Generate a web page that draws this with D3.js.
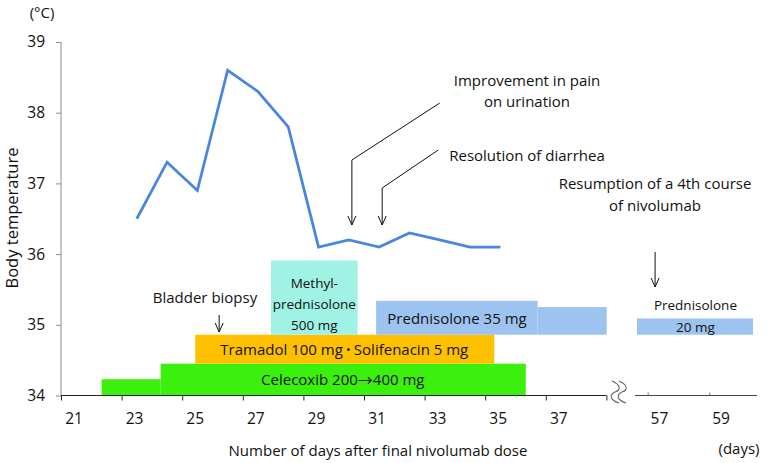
<!DOCTYPE html>
<html>
<head>
<meta charset="utf-8">
<script src="https://cdn.jsdelivr.net/npm/d3@7"></script>
<style>
  html, body { margin: 0; padding: 0; background: #fff; }
  svg { display: block; font-family: "Open Sans", sans-serif; }
</style>
</head>
<body>
<svg id="chart" width="767" height="463"></svg>
<script>
// ---- data ----
const days = [23, 24, 25, 26, 27, 28, 29, 30, 31, 32, 33, 34, 35];
const temps = [36.5, 37.3, 36.9, 38.6, 38.3, 37.8, 36.1, 36.2, 36.1, 36.3, 36.2, 36.1, 36.1];
const yTicks = [34, 35, 36, 37, 38, 39];
const xTicks = [21, 23, 25, 27, 29, 31, 33, 35, 37, 39];
const xTickLabels = ["21", "23", "25", "27", "29", "31", "33", "35", "37", ""];
const xTicks2 = [57, 59];
const xTickLabels2 = ["57", "59"];

// treatment periods (days) and their band levels (°C on the chart)
const barNames = ["celecoxib-a", "celecoxib-b", "tramadol", "methylpred", "pred35-a", "pred35-b", "pred20"];
const barStart = [22.34, 24.29, 25.43, 27.93, 31.40, 36.73, 56.65];
const barEnd   = [24.29, 36.34, 35.30, 30.79, 36.73, 39.01, 60.42];
const barLow   = [34.0, 34.0, 34.45, 34.86, 34.86, 34.86, 34.86];
const barHigh  = [34.23, 34.45, 34.86, 35.91, 35.34, 35.25, 35.09];
const barSegment = [1, 1, 1, 1, 1, 1, 2];
const barColors = ["#3cf00e", "#3cf00e", "#ffc000", "#9ff2e4", "#9dc3f0", "#9dc3f0", "#9dc3f0"];

// ---- scales ----
const svg = d3.select("#chart");
const y = d3.scaleLinear().domain([34, 39]).range([395.5, 42]);
const x = d3.scaleLinear().domain([21, 39]).range([61, 606.4]);
const x2 = d3.scaleLinear().domain([57, 59]).range([647.7, 709.3]);
const xs = s => (s === 2 ? x2 : x);

// ---- bars ----
svg.append("g").selectAll("rect")
  .data(barNames)
  .join("rect")
  .attr("x", (d, i) => xs(barSegment[i])(barStart[i]))
  .attr("width", (d, i) => xs(barSegment[i])(barEnd[i]) - xs(barSegment[i])(barStart[i]))
  .attr("y", (d, i) => y(barHigh[i]))
  .attr("height", (d, i) => y(barLow[i]) - y(barHigh[i]))
  .attr("fill", (d, i) => barColors[i]);

// ---- axes ----
const yAxis = d3.axisLeft(y).tickValues(yTicks).tickSize(5).tickPadding(11).tickFormat(d3.format("d"));
const gy = svg.append("g").attr("transform", "translate(61,0)").call(yAxis);
gy.select(".domain").attr("stroke", "#8c8c8c").attr("d", `M0,${y(34)}V${y(39)}`);
gy.selectAll(".tick line").attr("stroke", "#8c8c8c");
gy.selectAll(".tick text").attr("font-size", 15.5).attr("fill", "#111").attr("font-family", "Open Sans");

const xAxis = d3.axisBottom(x).tickValues(xTicks).tickSize(5).tickFormat("");
const gx = svg.append("g").attr("transform", `translate(0,${y(34)})`).call(xAxis);
gx.select(".domain").attr("stroke", "#222").attr("d", `M${x(21)},0H${x(39)}`);
gx.selectAll(".tick line").attr("stroke", "#222");
svg.append("g").selectAll("text")
  .data(xTicks)
  .join("text")
  .attr("x", d => x(d + 0.43))
  .attr("y", 418)
  .attr("text-anchor", "middle")
  .attr("dominant-baseline", "central")
  .attr("font-size", 15.5).attr("fill", "#111")
  .text((d, i) => xTickLabels[i]);

const xAxis2 = d3.axisBottom(x2).tickValues(xTicks2).tickSize(4).tickFormat("");
const gx2 = svg.append("g").attr("transform", `translate(0,${y(34)})`).call(xAxis2);
gx2.select(".domain").attr("stroke", "#444").attr("d", `M635,0H757`);
gx2.selectAll(".tick line").attr("stroke", "#777").attr("y2", -3);
svg.append("g").selectAll("text")
  .data(xTicks2)
  .join("text")
  .attr("x", d => x2(d + 0.38))
  .attr("y", 418)
  .attr("text-anchor", "middle")
  .attr("dominant-baseline", "central")
  .attr("font-size", 15.5).attr("fill", "#111")
  .text((d, i) => xTickLabels2[i]);

// axis break
const brk = svg.append("g").attr("fill", "none").attr("stroke", "#666").attr("stroke-width", 1.1);
[0, 7].forEach(o => {
  brk.append("path").attr("d",
    `M${612 + o},381 C${621 + o},385 ${621 + o},390 ${615 + o},392 C${609 + o},395 ${610 + o},400 ${619 + o},403`);
});

// ---- temperature line ----
const line = d3.line().x(d => x(d[0] + 0.5)).y(d => y(d[1]));
svg.append("path")
  .datum(days.map((d, i) => [d, temps[i]]))
  .attr("fill", "none")
  .attr("stroke", "#4a86e0")
  .attr("stroke-width", 2.8)
  .attr("stroke-linejoin", "miter")
  .attr("d", line);

// ---- bar labels ----
const txt = (t, cx, cy, size, anchor = "middle") =>
  svg.append("text").attr("x", cx).attr("y", cy).attr("text-anchor", anchor)
    .attr("dominant-baseline", "central").attr("font-size", size).attr("fill", "#111").text(t);

txt("Methyl-", x(29.36), 283, 13.5);
txt("prednisolone", x(29.36), 304, 13.5);
txt("500 mg", x(29.36), 325, 13.5);
txt("Prednisolone 35 mg", x(34.07), 318, 15);

const tram = svg.append("text").attr("x", x(30.35)).attr("y", 349).attr("text-anchor", "middle")
  .attr("dominant-baseline", "central").attr("font-size", 15).attr("fill", "#111");
tram.append("tspan").text("Tramadol 100 mg");
tram.append("tspan").attr("font-family", "Noto Sans CJK JP").attr("font-weight", "bold").attr("font-size", 11).text("・");
tram.append("tspan").text("Solifenacin 5 mg");

const cel = svg.append("text").attr("x", x(30.3)).attr("y", 379).attr("text-anchor", "middle")
  .attr("dominant-baseline", "central").attr("font-size", 15).attr("fill", "#111");
cel.append("tspan").text("Celecoxib 200");
cel.append("tspan").attr("font-family", "Noto Sans CJK JP").text("→");
cel.append("tspan").text("400 mg");

txt("Prednisolone", x2(58.55), 305, 13.5);
txt("20 mg", x2(58.55), 327, 13.5);

// ---- annotations ----
const ann = svg.append("g").attr("stroke", "#111").attr("stroke-width", 1).attr("fill", "none");
const arrowHead = (ax, ay) => ann.append("path").attr("d", `M${ax - 4},${ay - 9}L${ax},${ay}L${ax + 4},${ay - 9}`);

// improvement in pain
ann.append("path").attr("d", `M${x(33.5)},103L${x(30.6)},160V225`);
arrowHead(x(30.6), 225);
// resolution of diarrhea
ann.append("path").attr("d", `M${x(33.45)},150L${x(31.6)},188V225`);
arrowHead(x(31.6), 225);
// bladder biopsy
ann.append("path").attr("d", `M${x(26.22)},315V332`);
arrowHead(x(26.22), 332);
// resumption
ann.append("path").attr("d", `M${x2(57.24)},252V287`);
arrowHead(x2(57.24), 287);

txt("Improvement in pain", 527, 80, 15);
txt("on urination", 527, 101, 15);
txt("Resolution of diarrhea", 527, 155, 15);
txt("Resumption of a 4th course", 655, 183, 15);
txt("of nivolumab", 655, 205, 15);
txt("Bladder biopsy", 205, 297, 15);

// ---- axis titles ----
txt("(°C)", 42, 12, 15);
txt("(days)", 739, 448, 15);
txt("Number of days after final nivolumab dose", 378, 450, 15);
svg.append("text")
  .attr("transform", "translate(11,218) rotate(-90)")
  .attr("text-anchor", "middle").attr("dominant-baseline", "central")
  .attr("font-size", 16.5).attr("fill", "#111")
  .text("Body temperature");
</script>
</body>
</html>
